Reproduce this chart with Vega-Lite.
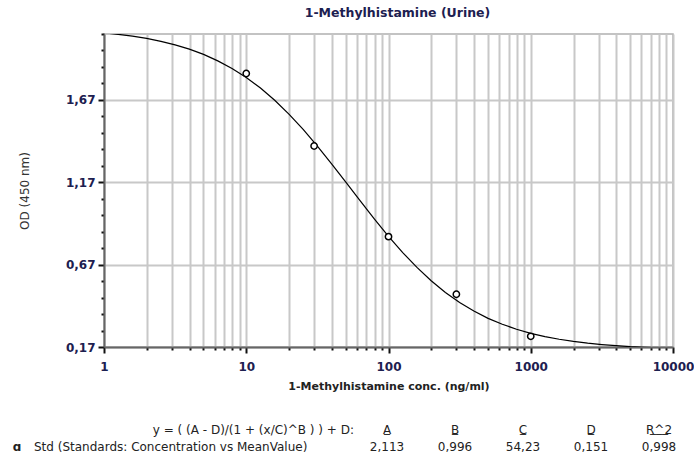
{
  "$schema": "https://vega.github.io/schema/vega-lite/v6.json",
  "background": "white",
  "padding": {"left": 12, "top": 5, "right": 5, "bottom": 5},
  "spacing": 4,
  "config": {
    "font": "DejaVu Sans",
    "view": {"stroke": "#b0b0b0", "strokeWidth": 1.5}
  },
  "datasets": {
    "curve": [
      {"conc": 1, "od": 2.077}, {"conc": 1.259, "od": 2.068}, {"conc": 1.585, "od": 2.057},
      {"conc": 1.995, "od": 2.043}, {"conc": 2.512, "od": 2.025}, {"conc": 3.162, "od": 2.004},
      {"conc": 3.981, "od": 1.978}, {"conc": 5.012, "od": 1.946}, {"conc": 6.31, "od": 1.907},
      {"conc": 7.943, "od": 1.861}, {"conc": 10, "od": 1.806}, {"conc": 12.59, "od": 1.742},
      {"conc": 15.85, "od": 1.668}, {"conc": 19.95, "od": 1.584}, {"conc": 25.12, "od": 1.491},
      {"conc": 31.62, "od": 1.389}, {"conc": 39.81, "od": 1.282}, {"conc": 50.12, "od": 1.171},
      {"conc": 63.1, "od": 1.058}, {"conc": 79.43, "od": 0.948}, {"conc": 100, "od": 0.842},
      {"conc": 125.9, "od": 0.743}, {"conc": 158.5, "od": 0.653}, {"conc": 199.5, "od": 0.572},
      {"conc": 251.2, "od": 0.501}, {"conc": 316.2, "od": 0.44}, {"conc": 398.1, "od": 0.388},
      {"conc": 501.2, "od": 0.344}, {"conc": 631, "od": 0.308}, {"conc": 794.3, "od": 0.278},
      {"conc": 1000, "od": 0.253}, {"conc": 1259, "od": 0.233}, {"conc": 1585, "od": 0.217},
      {"conc": 1995, "od": 0.204}, {"conc": 2512, "od": 0.193}, {"conc": 3162, "od": 0.185},
      {"conc": 3981, "od": 0.178}, {"conc": 5012, "od": 0.172}, {"conc": 6310, "od": 0.168},
      {"conc": 7943, "od": 0.165}, {"conc": 10000, "od": 0.162}
    ],
    "standards": [
      {"conc": 10, "od": 1.83},
      {"conc": 30, "od": 1.39},
      {"conc": 100, "od": 0.84},
      {"conc": 300, "od": 0.49},
      {"conc": 1000, "od": 0.235}
    ],
    "table": [
      {"part": "label", "row": "head", "col": 0, "text": "y = ( (A - D)/(1 + (x/C)^B ) ) + D:"},
      {"part": "name", "row": "std", "col": 0, "text": "Std (Standards: Concentration vs MeanValue)"},
      {"part": "symbol", "row": "std", "col": 0, "text": "ɑ"},
      {"part": "header", "row": "head", "col": 1, "text": "A"},
      {"part": "header", "row": "head", "col": 2, "text": "B"},
      {"part": "header", "row": "head", "col": 3, "text": "C"},
      {"part": "header", "row": "head", "col": 4, "text": "D"},
      {"part": "header", "row": "head", "col": 5, "text": "R^2"},
      {"part": "value", "row": "std", "col": 1, "text": "2,113"},
      {"part": "value", "row": "std", "col": 2, "text": "0,996"},
      {"part": "value", "row": "std", "col": 3, "text": "54,23"},
      {"part": "value", "row": "std", "col": 4, "text": "0,151"},
      {"part": "value", "row": "std", "col": 5, "text": "0,998"}
    ]
  },
  "vconcat": [
    {
      "width": 569,
      "height": 313,
      "title": {
        "text": "1-Methylhistamine (Urine)",
        "fontSize": 12.5,
        "fontWeight": "bold",
        "color": "#1d2050",
        "anchor": "middle",
        "frame": "group",
        "dx": 9,
        "offset": 9
      },
      "encoding": {
        "x": {
          "field": "conc",
          "type": "quantitative",
          "scale": {"type": "log", "domain": [1, 10000], "nice": false},
          "axis": {
            "title": "1-Methylhistamine conc. (ng/ml)",
            "titleFontSize": 11,
            "titleFontWeight": "bold",
            "titleColor": "#222222",
            "titlePadding": 8,
            "values": [1, 2, 3, 4, 5, 6, 7, 8, 9, 10, 20, 30, 40, 50, 60, 70, 80, 90, 100, 200, 300, 400, 500, 600, 700, 800, 900, 1000, 2000, 3000, 4000, 5000, 6000, 7000, 8000, 9000, 10000],
            "labelExpr": "indexof([1, 10, 100, 1000, 10000], datum.value) >= 0 ? format(datum.value, 'd') : ''",
            "labelFontSize": 12,
            "labelFontWeight": "bold",
            "labelColor": "#1d2050",
            "labelPadding": 8,
            "labelFlush": false,
            "labelOverlap": false,
            "grid": true,
            "gridColor": "#c8c8c8",
            "gridWidth": 2,
            "tickColor": "#111111",
            "tickWidth": 2,
            "tickSize": {"condition": {"test": "indexof([1, 10, 100, 1000, 10000], datum.value) >= 0", "value": 6}, "value": 3},
            "domainColor": "#666666",
            "domainWidth": 2
          }
        },
        "y": {
          "field": "od",
          "type": "quantitative",
          "scale": {"domain": [0.17, 2.07], "nice": false, "zero": false},
          "axis": {
            "title": "OD (450 nm)",
            "titleFontSize": 12,
            "titleFontWeight": "normal",
            "titleColor": "#333333",
            "titlePadding": 34,
            "values": [0.17, 0.27, 0.37, 0.47, 0.57, 0.67, 0.77, 0.87, 0.97, 1.07, 1.17, 1.27, 1.37, 1.47, 1.57, 1.67, 1.77, 1.87, 1.97, 2.07],
            "labelExpr": "indexof([0.17, 0.67, 1.17, 1.67], datum.value) >= 0 ? replace(format(datum.value, '.2f'), '.', ',') : ''",
            "labelFontSize": 12,
            "labelFontWeight": "bold",
            "labelColor": "#1d2050",
            "labelPadding": 3,
            "labelOverlap": false,
            "labelFlush": false,
            "grid": true,
            "gridColor": "#c8c8c8",
            "gridWidth": 2,
            "gridOpacity": {"condition": {"test": "indexof([0.17, 0.67, 1.17, 1.67], datum.value) >= 0", "value": 1}, "value": 0},
            "tickColor": "#111111",
            "tickWidth": 2,
            "tickSize": {"condition": {"test": "indexof([0.17, 0.67, 1.17, 1.67], datum.value) >= 0", "value": 6}, "value": 3},
            "domainColor": "#666666",
            "domainWidth": 2
          }
        }
      },
      "layer": [
        {
          "data": {"name": "curve"},
          "mark": {"type": "line", "color": "#000000", "strokeWidth": 1.2, "clip": true}
        },
        {
          "data": {"name": "standards"},
          "mark": {"type": "point", "shape": "circle", "size": 40, "filled": true, "fill": "white", "stroke": "#000000", "strokeWidth": 1.5, "opacity": 1}
        }
      ]
    },
    {
      "width": 569,
      "height": 55,
      "view": {"stroke": null},
      "data": {"name": "table"},
      "encoding": {
        "x": {"field": "col", "type": "quantitative", "scale": {"domain": [0, 5], "range": [215, 555]}, "axis": null},
        "y": {"field": "row", "type": "nominal", "scale": {"type": "point", "domain": ["head", "std"], "range": [34, 51], "padding": 0}, "axis": null},
        "text": {"field": "text", "type": "nominal"}
      },
      "layer": [
        {
          "transform": [{"filter": "datum.part == 'value' || datum.part == 'header'"}],
          "mark": {"type": "text", "fontSize": 12, "color": "#222222", "align": "center", "baseline": "middle"}
        },
        {
          "transform": [{"filter": "datum.part == 'header'"}],
          "mark": {"type": "text", "fontSize": 12, "color": "#222222", "align": "center", "baseline": "middle", "dy": -2},
          "encoding": {
            "text": {"condition": {"test": "datum.col == 5", "value": "___"}, "value": "_"}
          }
        },
        {
          "transform": [{"filter": "datum.part == 'label'"}],
          "mark": {"type": "text", "fontSize": 12, "color": "#222222", "align": "right", "baseline": "middle", "dx": 35}
        },
        {
          "transform": [{"filter": "datum.part == 'name'"}],
          "mark": {"type": "text", "fontSize": 12, "color": "#222222", "align": "left", "baseline": "middle", "dx": -285}
        },
        {
          "transform": [{"filter": "datum.part == 'symbol'"}],
          "mark": {"type": "text", "fontSize": 12, "fontWeight": "bold", "color": "#222222", "align": "center", "baseline": "middle", "dx": -302}
        }
      ]
    }
  ]
}
